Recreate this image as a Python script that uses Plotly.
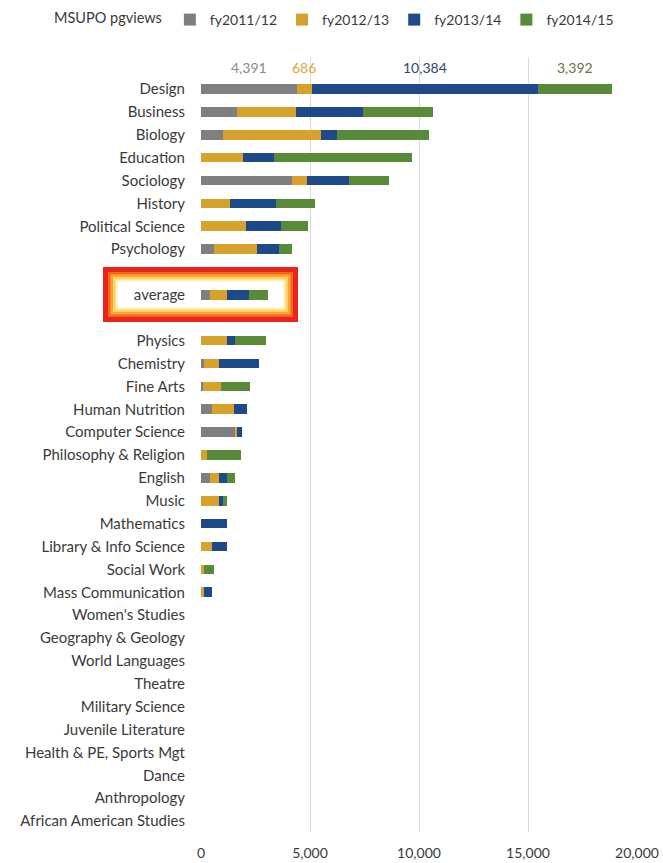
import plotly.graph_objects as go

categories = ["Design", "Business", "Biology", "Education", "Sociology", "History",
              "Political Science", "Psychology", " ", "average", "  ", "Physics",
              "Chemistry", "Fine Arts", "Human Nutrition", "Computer Science",
              "Philosophy & Religion", "English", "Music", "Mathematics",
              "Library & Info Science", "Social Work", "Mass Communication",
              "Women's Studies", "Geography & Geology", "World Languages", "Theatre",
              "Military Science", "Juvenile Literature", "Health & PE, Sports Mgt",
              "Dance", "Anthropology", "African American Studies"]

fy2011_12 = [4391, 1640, 1020, 0, 4160, 0, 0, 610, None, 400, None, 0,
             150, 100, 490, 1560, 0, 410, 0, 0, 0, 0, 0,
             0, 0, 0, 0, 0, 0, 0, 0, 0, 0]
fy2012_13 = [686, 2700, 4500, 1920, 700, 1350, 2050, 1970, None, 780, None, 1180,
             680, 830, 1040, 80, 290, 410, 840, 0, 520, 150, 150,
             0, 0, 0, 0, 0, 0, 0, 0, 0, 0]
fy2013_14 = [10384, 3110, 740, 1440, 1930, 2100, 1640, 1010, None, 1030, None, 380,
             1850, 0, 570, 260, 0, 380, 150, 1210, 660, 0, 370,
             0, 0, 0, 0, 0, 0, 0, 0, 0, 0]
fy2014_15 = [3392, 3190, 4210, 6310, 1840, 1780, 1210, 590, None, 860, None, 1420,
             0, 1310, 0, 0, 1540, 350, 220, 0, 0, 450, 0,
             0, 0, 0, 0, 0, 0, 0, 0, 0, 0]

series_names = ["fy2011/12", "fy2012/13", "fy2013/14", "fy2014/15"]
series_colors = ["#7f7f7f", "#d6a22b", "#1f4a8a", "#588a3a"]
label_colors = ["#8a8a8a", "#dba93a", "#2d4677", "#6a7440"]
x_ticks = [0, 5000, 10000, 15000, 20000]

W, H = 663, 863
L, R, T, B = 201, 26, 57, 31
PW, PH = W - L - R, H - T - B

def px(xp):
    return (xp - L) / PW

def py(yp):
    return (H - B - yp) / PH

font = "Lato, 'Open Sans', sans-serif"
txt = "#3a3a3a"

fig = go.Figure()
all_series = [fy2011_12, fy2012_13, fy2013_14, fy2014_15]
for name, vals, col in zip(series_names, all_series, series_colors):
    fig.add_trace(go.Bar(y=categories, x=vals, name=name, orientation="h",
                         marker=dict(color=col, line=dict(width=0)),
                         hoverinfo="skip"))

# top value labels for the first category (Design)
cum = 0
annotations = []
for vals, col in zip(all_series, label_colors):
    v = vals[0]
    annotations.append(dict(x=cum + v / 2, y=-0.95, xref="x", yref="y",
                            text=f"{v:,}", showarrow=False,
                            font=dict(family=font, size=14, color=col)))
    cum += v

shapes = []
# white cover hiding gridlines above the first bar
shapes.append(dict(type="rect", xref="x", yref="paper", x0=-300, x1=19500,
                   y0=py(84), y1=1.0, fillcolor="white", line=dict(width=0),
                   layer="between"))
# glowing highlight box around "average"
x0p, x1p, y0p, y1p = 103, 298, 267, 322
glow = [("#e8251c", 5, 2.5), ("#f2661f", 3, 6.5), ("#f9a531", 3, 9.0),
        ("#fcd266", 3, 11.5), ("#fef0c0", 2, 13.5)]
for col, w, inset in glow:
    shapes.append(dict(type="rect", xref="paper", yref="paper",
                       x0=px(x0p + inset), x1=px(x1p - inset),
                       y0=py(y1p - inset), y1=py(y0p + inset),
                       line=dict(color=col, width=w), fillcolor="rgba(0,0,0,0)",
                       layer="above"))

fig.update_layout(
    width=W, height=H,
    margin=dict(l=L, r=R, t=T, b=B, pad=0, autoexpand=False),
    paper_bgcolor="white", plot_bgcolor="white",
    barmode="stack", bargap=0.58,
    font=dict(family=font, size=15, color=txt),
    showlegend=True,
    legend=dict(orientation="h", x=px(52), xanchor="left", y=py(4), yanchor="top",
                title=dict(text="MSUPO pgviews", font=dict(size=14.5, color=txt)),
                font=dict(size=14, color=txt), itemwidth=30,
                traceorder="normal", bgcolor="rgba(0,0,0,0)"),
    xaxis=dict(range=[0, 20000], tickvals=x_ticks,
               ticktext=[f"{v:,}" for v in x_ticks],
               showgrid=True, gridcolor="#d9d9d9", gridwidth=1,
               zeroline=False, showline=False, ticks="", ticklabelstandoff=11,
               tickfont=dict(size=14, color=txt), fixedrange=True,
               automargin=False),
    yaxis=dict(type="category", categoryorder="array", categoryarray=categories,
               range=[32.48, -1.40], showgrid=False, zeroline=False,
               showline=False, ticks="", ticklabelstandoff=15,
               tickfont=dict(size=15, color=txt), fixedrange=True,
               automargin=False),
    annotations=annotations,
    shapes=shapes,
)

fig.write_html("out.html", config={"displayModeBar": False},
               post_script="document.body.style.margin='0';document.body.style.padding='0';")
